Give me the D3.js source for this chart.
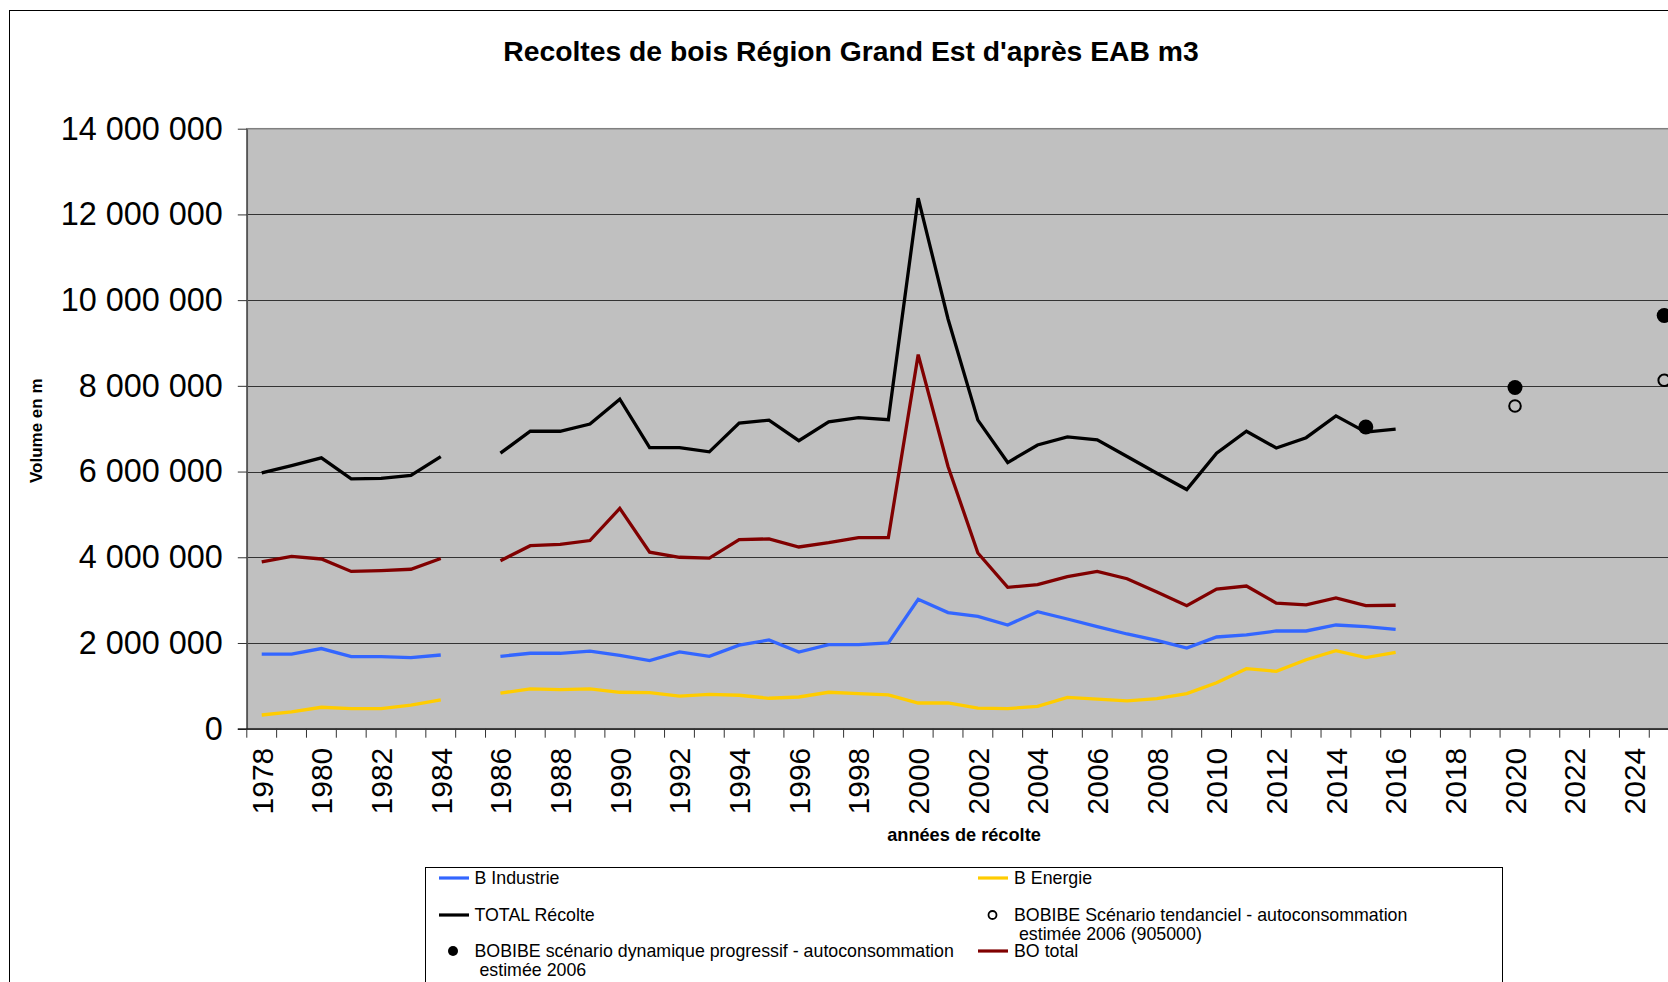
<!DOCTYPE html>
<html lang="fr">
<head>
<meta charset="utf-8">
<title>Recoltes de bois Région Grand Est</title>
<script src="https://cdn.jsdelivr.net/npm/d3@7"></script>
<style>
  html, body { margin: 0; padding: 0; background: #fff; overflow: hidden; }
  svg { display: block; font-family: "Liberation Sans", Arial, sans-serif; }
</style>
</head>
<body>
<svg id="chart" width="1668" height="982"></svg>
<script>
// Harvest years (1985 missing in the source series)
const years = [1978, 1979, 1980, 1981, 1982, 1983, 1984, 1985, 1986, 1987, 1988, 1989,
  1990, 1991, 1992, 1993, 1994, 1995, 1996, 1997, 1998, 1999, 2000, 2001, 2002, 2003,
  2004, 2005, 2006, 2007, 2008, 2009, 2010, 2011, 2012, 2013, 2014, 2015, 2016];

// Volumes in m3
const bIndustrie = [1740000, 1740000, 1870000, 1680000, 1680000, 1660000, 1720000, null,
  1690000, 1760000, 1760000, 1810000, 1710000, 1590000, 1790000, 1690000, 1950000, 2070000,
  1790000, 1960000, 1960000, 2000000, 3020000, 2710000, 2620000, 2420000, 2730000, 2560000,
  2380000, 2210000, 2060000, 1880000, 2140000, 2190000, 2280000, 2280000, 2420000, 2380000, 2320000];

const bEnergie = [320000, 390000, 500000, 470000, 470000, 550000, 670000, null,
  830000, 930000, 910000, 930000, 850000, 840000, 760000, 800000, 780000, 710000,
  740000, 850000, 820000, 790000, 600000, 600000, 480000, 470000, 520000, 730000,
  690000, 650000, 700000, 820000, 1070000, 1400000, 1340000, 1610000, 1820000, 1660000, 1780000];

const totalRecolte = [5970000, 6140000, 6320000, 5830000, 5840000, 5910000, 6350000, null,
  6430000, 6940000, 6940000, 7110000, 7690000, 6560000, 6560000, 6460000, 7130000, 7200000,
  6720000, 7160000, 7260000, 7210000, 12380000, 9560000, 7200000, 6210000, 6620000, 6810000,
  6740000, 6350000, 5960000, 5580000, 6430000, 6940000, 6550000, 6790000, 7300000, 6920000, 6990000];

const boTotal = [3890000, 4020000, 3960000, 3670000, 3690000, 3720000, 3970000, null,
  3920000, 4270000, 4300000, 4390000, 5140000, 4120000, 4000000, 3980000, 4410000, 4430000,
  4240000, 4340000, 4460000, 4460000, 8730000, 6120000, 4100000, 3300000, 3360000, 3550000,
  3670000, 3500000, 3190000, 2870000, 3260000, 3330000, 2930000, 2890000, 3050000, 2870000, 2880000];

// BOBIBE scenarios (single points)
const dynamiqueYears = [2015, 2020, 2025];
const dynamiqueValues = [7040000, 7960000, 9640000];
const tendancielYears = [2020, 2025];
const tendancielValues = [7530000, 8130000];

// Axis categories and ticks
const axisYears = d3.range(1978, 2026);
const yearLabels = axisYears.filter(v => v % 2 === 0);
const yTicks = [0, 2000000, 4000000, 6000000, 8000000, 10000000, 12000000, 14000000];

const FONT = '"Liberation Sans", Arial, sans-serif';
const svg = d3.select("#chart");

// chart frame
svg.append("rect")
  .attr("x", 9.5).attr("y", 10.5)
  .attr("width", 1800).attr("height", 1200)
  .attr("fill", "#fff").attr("stroke", "#000").attr("stroke-width", 1);

const plotL = 246.8, plotT = 128.7, plotB = 728.7, band = 29.84;
const x = d3.scaleBand().domain(axisYears)
  .range([plotL, plotL + band * axisYears.length]).padding(0);
const y = d3.scaleLinear().domain([0, 14000000]).range([plotB, plotT]);
const plotR = x.range()[1];

const fr = d3.formatLocale({ decimal: ",", thousands: " ", grouping: [3], currency: ["", " €"] });
const fmt = fr.format(",d");

// plot area
svg.append("rect")
  .attr("x", plotL).attr("y", plotT)
  .attr("width", plotR - plotL).attr("height", plotB - plotT)
  .attr("fill", "#c0c0c0").attr("stroke", "#808080").attr("stroke-width", 1.5);

// horizontal gridlines
svg.append("g").selectAll("line")
  .data(yTicks.filter(v => v > 0 && v < 14000000))
  .join("line")
  .attr("x1", plotL).attr("x2", plotR)
  .attr("y1", d => Math.round(y(d)) + 0.5).attr("y2", d => Math.round(y(d)) + 0.5)
  .attr("stroke", "#333").attr("stroke-width", 1);

// Y axis
const yAxis = svg.append("g")
  .attr("transform", `translate(${plotL},0)`)
  .call(d3.axisLeft(y).tickValues(yTicks).tickSize(9).tickSizeOuter(0).tickPadding(15).tickFormat(fmt));
yAxis.select(".domain").attr("stroke", "#555").attr("stroke-width", 1.5);
yAxis.selectAll(".tick line").attr("stroke", "#333");
yAxis.selectAll("text").attr("font-size", 32.4).attr("font-family", FONT).attr("fill", "#000");

// X axis (labels centred on categories, ticks on category boundaries)
const xAxis = svg.append("g")
  .attr("transform", `translate(0,${plotB})`)
  .call(d3.axisBottom(x).tickValues(yearLabels).tickSize(0).tickSizeOuter(0));
xAxis.select(".domain").remove();
xAxis.selectAll("text")
  .attr("font-size", 30).attr("font-family", FONT).attr("fill", "#000")
  .attr("transform", "rotate(-90)")
  .attr("text-anchor", "end")
  .attr("x", -19).attr("y", 0).attr("dy", "0.36em");

svg.append("line")
  .attr("x1", plotL - 9).attr("x2", plotR)
  .attr("y1", plotB + 0.5).attr("y2", plotB + 0.5)
  .attr("stroke", "#000").attr("stroke-width", 1.2);
svg.append("g").selectAll("line")
  .data(axisYears)
  .join("line")
  .attr("x1", d => x(d)).attr("x2", d => x(d))
  .attr("y1", plotB).attr("y2", plotB + 9)
  .attr("stroke", "#333").attr("stroke-width", 1);

// series lines
const seriesList = [
  { values: bEnergie, color: "#ffcc00" },
  { values: bIndustrie, color: "#3366ff" },
  { values: boTotal, color: "#800000" },
  { values: totalRecolte, color: "#000000" }
];
const line = d3.line()
  .defined(d => d.v != null)
  .x(d => x(d.year) + x.bandwidth() / 2)
  .y(d => y(d.v));
svg.append("g").selectAll("path")
  .data(seriesList)
  .join("path")
  .attr("d", s => line(years.map((yr, i) => ({ year: yr, v: s.values[i] }))))
  .attr("fill", "none")
  .attr("stroke", s => s.color)
  .attr("stroke-width", 3.3);

// scenario markers
svg.append("g").selectAll("circle")
  .data(tendancielYears.map((yr, i) => ({ year: yr, v: tendancielValues[i] })))
  .join("circle")
  .attr("cx", d => x(d.year) + x.bandwidth() / 2)
  .attr("cy", d => y(d.v))
  .attr("r", 5.8)
  .attr("fill", "none").attr("stroke", "#000").attr("stroke-width", 2);
svg.append("g").selectAll("circle")
  .data(dynamiqueYears.map((yr, i) => ({ year: yr, v: dynamiqueValues[i] })))
  .join("circle")
  .attr("cx", d => x(d.year) + x.bandwidth() / 2)
  .attr("cy", d => y(d.v))
  .attr("r", 7.5)
  .attr("fill", "#000");

// title
svg.append("text")
  .attr("x", 851).attr("y", 61)
  .attr("text-anchor", "middle")
  .attr("font-size", 28.3).attr("font-weight", "bold").attr("font-family", FONT)
  .text("Recoltes de bois Région Grand Est d'après EAB m3");

// axis titles
svg.append("text")
  .attr("x", 964).attr("y", 841)
  .attr("text-anchor", "middle")
  .attr("font-size", 18.2).attr("font-weight", "bold").attr("font-family", FONT)
  .text("années de récolte");

svg.append("clipPath").attr("id", "ytitle-clip")
  .append("rect").attr("x", 0).attr("y", 379).attr("width", 120).attr("height", 400);
svg.append("g").attr("clip-path", "url(#ytitle-clip)")
  .append("text")
  .attr("transform", "translate(42,483) rotate(-90)")
  .attr("text-anchor", "start")
  .attr("font-size", 17).attr("font-weight", "bold").attr("font-family", FONT)
  .text("Volume en m3");

// legend
const legend = svg.append("g");
legend.append("rect")
  .attr("x", 425.5).attr("y", 867.5)
  .attr("width", 1077).attr("height", 200)
  .attr("fill", "#fff").attr("stroke", "#000").attr("stroke-width", 1);

const legendItems = [
  { kind: "line", color: "#3366ff", sx: 439, tx: 474.5, cy: 878, lines: ["B Industrie"] },
  { kind: "line", color: "#ffcc00", sx: 978, tx: 1014, cy: 878, lines: ["B Energie"] },
  { kind: "line", color: "#000000", sx: 439, tx: 474.5, cy: 915, lines: ["TOTAL Récolte"] },
  { kind: "open", mx: 992.5, tx: 1014, cy: 915,
    lines: ["BOBIBE Scénario tendanciel - autoconsommation", " estimée 2006 (905000)"] },
  { kind: "dot", mx: 453, tx: 474.5, cy: 951,
    lines: ["BOBIBE scénario dynamique progressif - autoconsommation", " estimée 2006"] },
  { kind: "line", color: "#800000", sx: 978, tx: 1014, cy: 951, lines: ["BO total"] }
];
const li = legend.selectAll("g.item").data(legendItems).join("g").attr("class", "item");
li.filter(d => d.kind === "line").append("line")
  .attr("x1", d => d.sx).attr("x2", d => d.sx + 30)
  .attr("y1", d => d.cy).attr("y2", d => d.cy)
  .attr("stroke", d => d.color).attr("stroke-width", 3.2);
li.filter(d => d.kind === "open").append("circle")
  .attr("cx", d => d.mx).attr("cy", d => d.cy).attr("r", 4)
  .attr("fill", "#fff").attr("stroke", "#000").attr("stroke-width", 1.8);
li.filter(d => d.kind === "dot").append("circle")
  .attr("cx", d => d.mx).attr("cy", d => d.cy).attr("r", 5)
  .attr("fill", "#000");
li.each(function (d) {
  const t = d3.select(this).append("text")
    .attr("font-size", 17.8).attr("font-family", FONT).attr("fill", "#000")
    .attr("xml:space", "preserve");
  d.lines.forEach((s, i) => {
    t.append("tspan").attr("x", d.tx).attr("y", d.cy + 6 + i * 19).text(s);
  });
});
</script>
</body>
</html>
